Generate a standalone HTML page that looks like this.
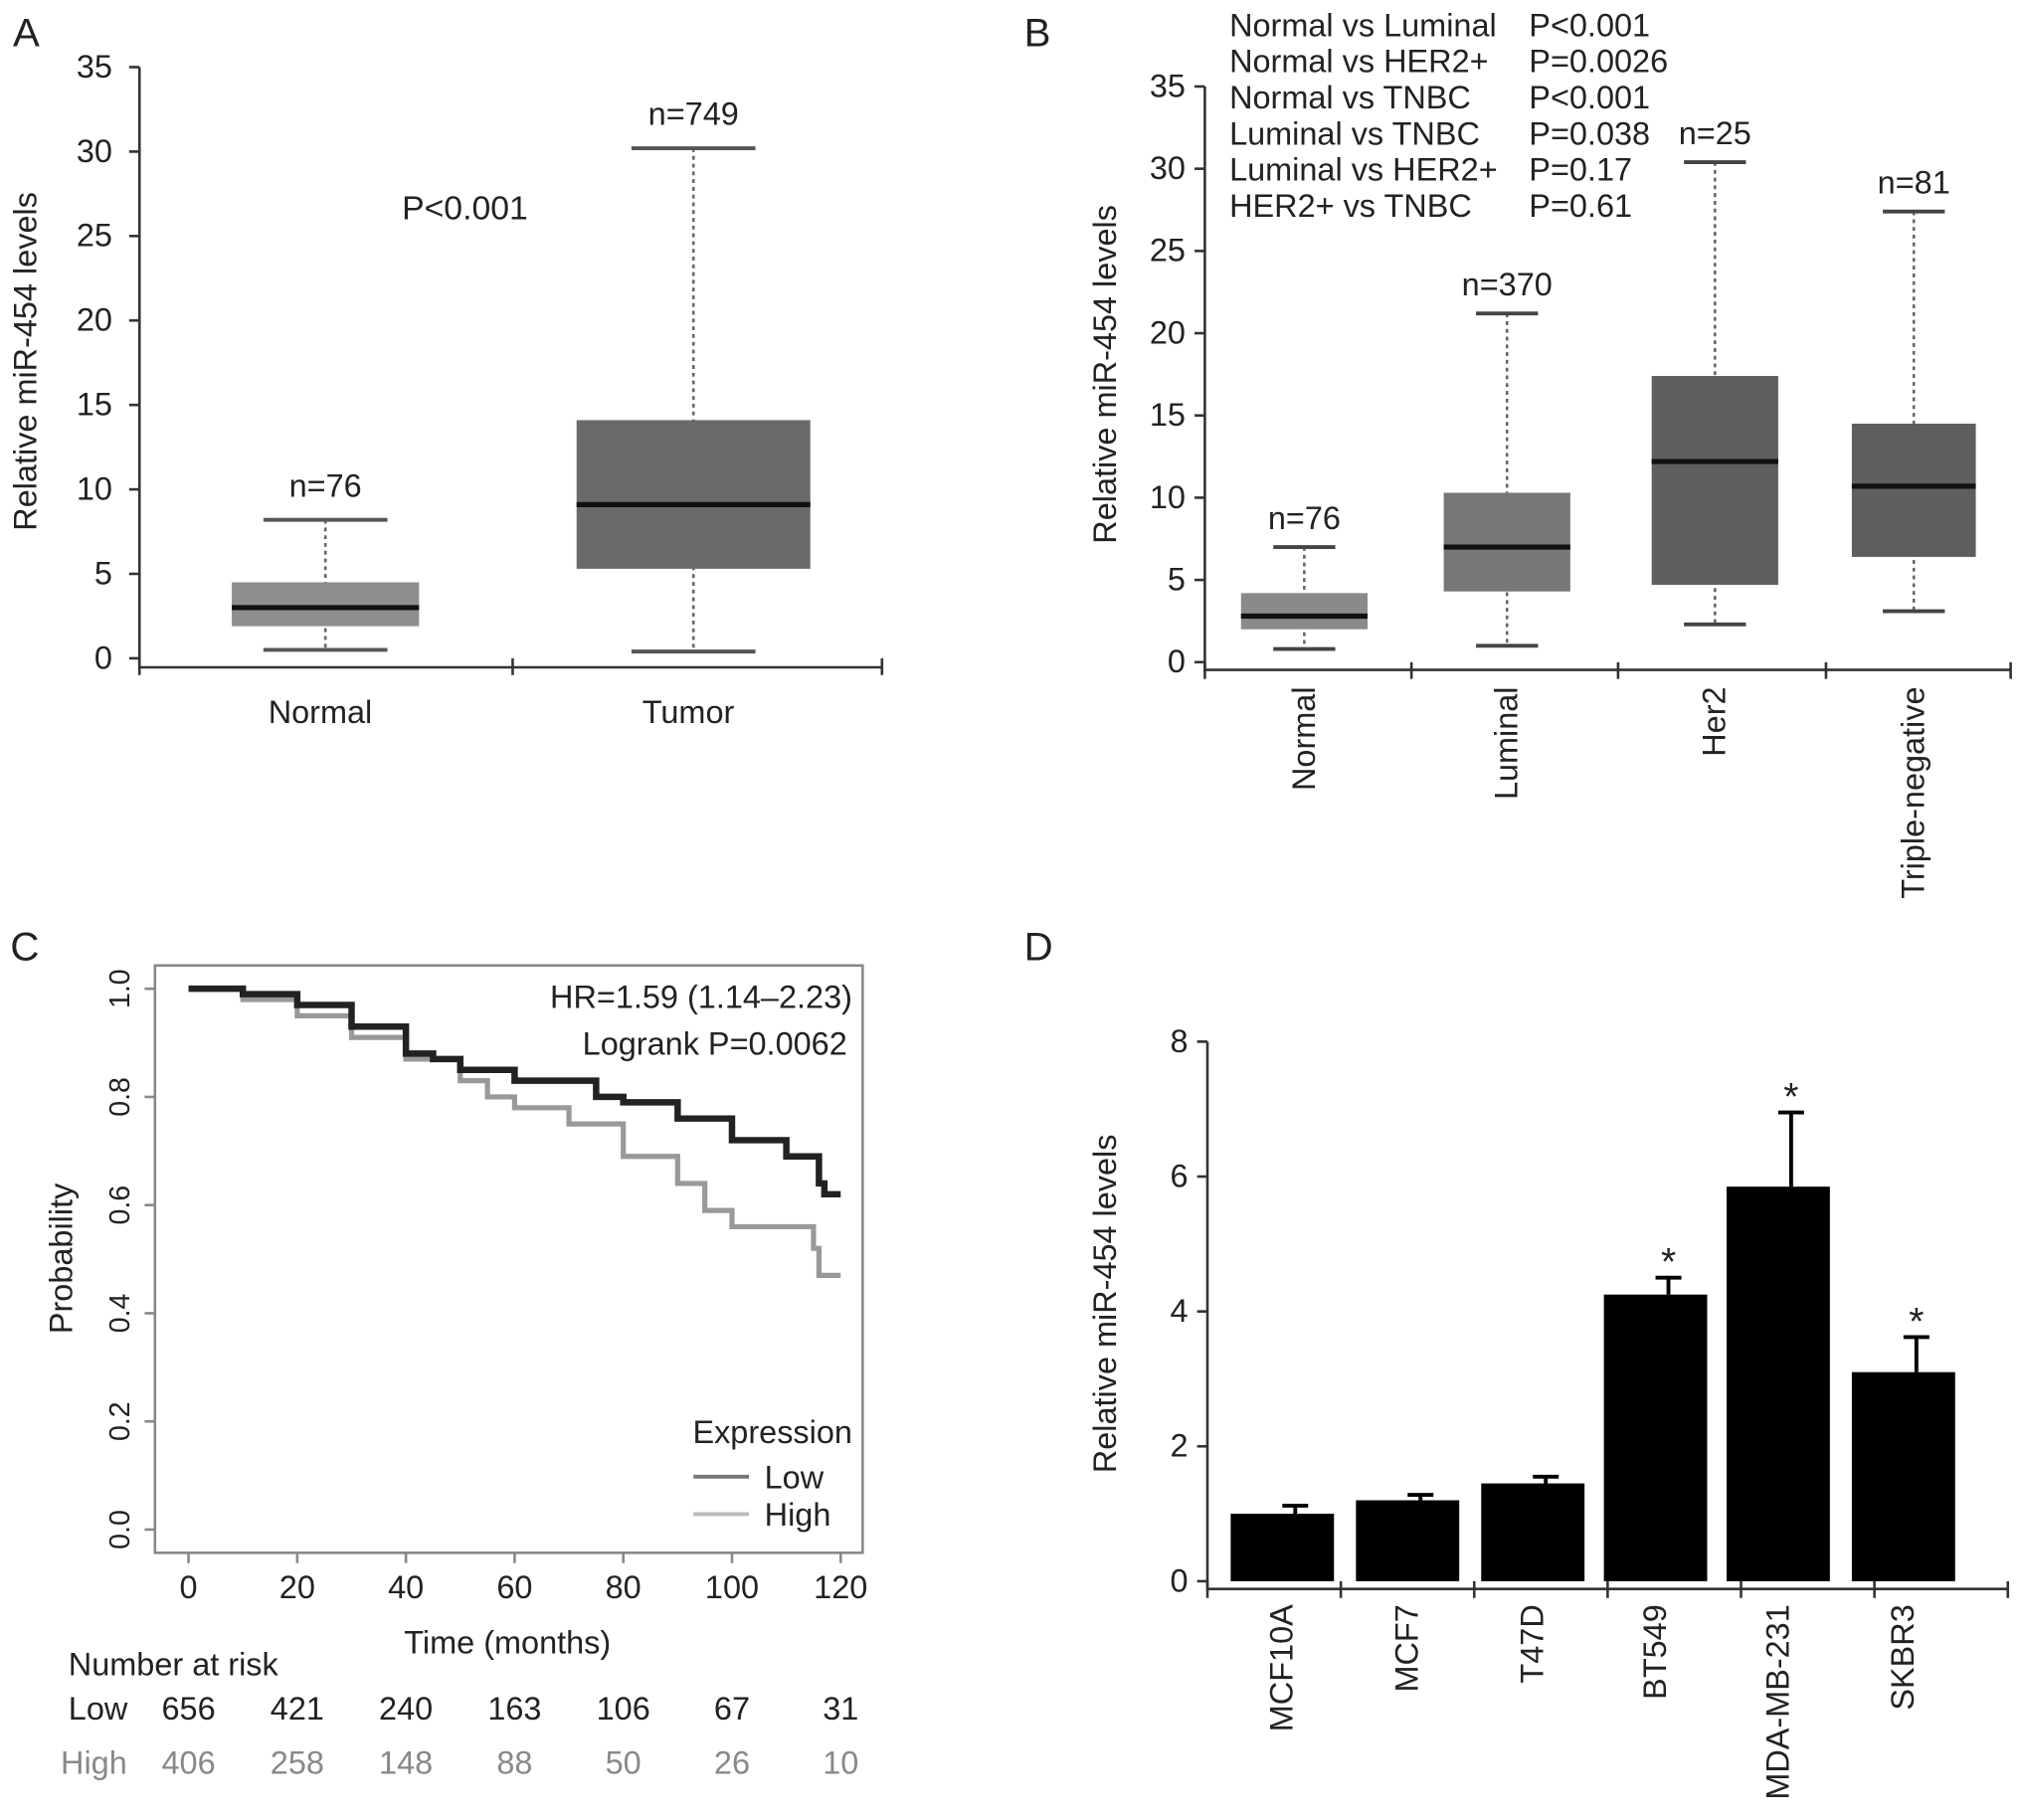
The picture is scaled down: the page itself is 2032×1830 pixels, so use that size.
<!DOCTYPE html>
<html><head><meta charset="utf-8"><style>
html,body{margin:0;padding:0;background:#fff}
svg{display:block}
text{font-family:"Liberation Sans",Arial,sans-serif;fill:#222}
</style></head><body>
<svg id="fig" width="2032" height="1830" viewBox="0 0 1565 1410" preserveAspectRatio="none" xmlns="http://www.w3.org/2000/svg">
<g id="gA"></g>
<g id="gB"></g>
<g id="gC"></g>
<g id="gD"></g>
</svg>
<script>
// ---- Panel A data ----
const aCats=["Normal","Tumor"];
const aMin=[0.5,0.4], aQ1=[1.9,5.3], aMed=[3.0,9.1], aQ3=[4.5,14.1], aMax=[8.2,30.2];
const aN=["n=76","n=749"];
const aTicks=[0,5,10,15,20,25,30,35];
// ---- Panel B data ----
const bCats=["Normal","Luminal","Her2","Triple-negative"];
const bMin=[0.8,1.0,2.3,3.1], bQ1=[2.0,4.3,4.7,6.4], bMed=[2.8,7.0,12.2,10.7], bQ3=[4.2,10.3,17.4,14.5], bMax=[7.0,21.2,30.4,27.4];
const bN=["n=76","n=370","n=25","n=81"];
const bTicks=[0,5,10,15,20,25,30,35];
const bStatsA=["Normal vs Luminal","Normal vs HER2+","Normal vs TNBC","Luminal vs TNBC","Luminal vs HER2+","HER2+ vs TNBC"];
const bStatsP=["P<0.001","P=0.0026","P<0.001","P=0.038","P=0.17","P=0.61"];
// ---- Panel C data ----
const lowT=[0,10,20,30,40,45,50,60,70,75,80,90,100,110,113,116,117,120];
const lowP=[1,0.99,0.97,0.93,0.88,0.87,0.85,0.83,0.83,0.80,0.79,0.76,0.72,0.69,0.69,0.64,0.62,0.62];
const highT=[0,10,20,30,40,50,55,60,70,80,90,95,100,114,115,116,120];
const highP=[1,0.98,0.95,0.91,0.87,0.83,0.80,0.78,0.75,0.69,0.64,0.59,0.56,0.56,0.52,0.47,0.47];
const cXTicks=[0,20,40,60,80,100,120];
const cYTicks=[0,0.2,0.4,0.6,0.8,1.0];
const riskLow=[656,421,240,163,106,67,31];
const riskHigh=[406,258,148,88,50,26,10];
// ---- Panel D data ----
const dCats=["MCF10A","MCF7","T47D","BT549","MDA-MB-231","SKBR3"];
const dVals=[1.0,1.2,1.45,4.25,5.85,3.1];
const dErr=[0.12,0.08,0.1,0.25,1.1,0.52];
const dSig=[false,false,false,true,true,true];
const dTicks=[0,2,4,6,8];

const NS="http://www.w3.org/2000/svg";
const FS=25;
function mk(parent,tag,attrs,txt){const e=document.createElementNS(NS,tag);for(const k in attrs)e.setAttribute(k,attrs[k]);if(txt!==undefined)e.textContent=txt;parent.appendChild(e);return e;}

// ===== Panel A =====
(function(){
const g=document.getElementById('gA');
const y=v=>510-v*(458/35);
const t=mk(g,'text',{x:10,y:36,'font-size':31});


t.textContent='A';
mk(g,'line',{x1:108,y1:52,x2:108,y2:518,stroke:'#333','stroke-width':2});
mk(g,'line',{x1:108,y1:517,x2:683,y2:517,stroke:'#333','stroke-width':2});
[108,397,683].forEach(x=>mk(g,'line',{x1:x,y1:510,x2:x,y2:523,stroke:'#333','stroke-width':2}));
aTicks.forEach(v=>{mk(g,'line',{x1:100,y1:y(v),x2:108,y2:y(v),stroke:'#333','stroke-width':2});
 const l=mk(g,'text',{x:87,y:y(v)+8,'font-size':FS,'text-anchor':'end'},v);
 
 });
const yt=mk(g,'text',{transform:'translate(28,280) rotate(-90)','font-size':FS,'text-anchor':'middle'},'Relative miR-454 levels');


const pv=mk(g,'text',{x:360,y:170,'font-size':26,'text-anchor':'middle'},'P<0.001');


const cols=['#8e8e8e','#6a6a6a'];
aCats.forEach((c,i)=>{const w=i===0?145:181;
 const bx=mk(g,'g',{});
 
 
 const xm=i===0?252:537;
 mk(bx,'line',{x1:xm,y1:y(aMax[i]),x2:xm,y2:y(aMin[i]),stroke:'#666','stroke-width':2,'stroke-dasharray':'3,3'});
 mk(bx,'line',{x1:xm-48,y1:y(aMax[i]),x2:xm+48,y2:y(aMax[i]),stroke:'#555','stroke-width':3});
 mk(bx,'line',{x1:xm-48,y1:y(aMin[i]),x2:xm+48,y2:y(aMin[i]),stroke:'#555','stroke-width':3});
 mk(bx,'rect',{x:xm-w/2,y:y(aQ3[i]),width:w,height:y(aQ1[i])-y(aQ3[i]),fill:cols[i]});
 mk(bx,'line',{x1:xm-w/2,y1:y(aMed[i]),x2:xm+w/2,y2:y(aMed[i]),stroke:'#111','stroke-width':4});
 mk(bx,'text',{x:xm,y:y(aMax[i])-18,'font-size':FS,'text-anchor':'middle'},aN[i]);
 const lb=mk(g,'text',{x:xm-4,y:560,'font-size':FS,'text-anchor':'middle'},c);
 
 
});
})();

// ===== Panel B =====
(function(){
const g=document.getElementById('gB');
const y=v=>513-v*(446/35);
const xc=[1010,1167,1328,1482], w=[98,98,98,96];
const cols=['#8a8a8a','#777','#5e5e5e','#5e5e5e'];
const t=mk(g,'text',{x:793,y:36,'font-size':31},'B');


mk(g,'line',{x1:933,y1:67,x2:933,y2:520,stroke:'#333','stroke-width':2});
mk(g,'line',{x1:933,y1:519,x2:1557,y2:519,stroke:'#333','stroke-width':2});
[933,1093,1253,1414,1557].forEach(x=>mk(g,'line',{x1:x,y1:513,x2:x,y2:526,stroke:'#333','stroke-width':2}));
bTicks.forEach(v=>{mk(g,'line',{x1:925,y1:y(v),x2:933,y2:y(v),stroke:'#333','stroke-width':2});
 const l=mk(g,'text',{x:918,y:y(v)+8,'font-size':FS,'text-anchor':'end'},v);
 
 });
const yt=mk(g,'text',{transform:'translate(864,290) rotate(-90)','font-size':FS,'text-anchor':'middle'},'Relative miR-454 levels');


bStatsA.forEach((s,i)=>{const a=mk(g,'text',{x:952,y:28+i*28,'font-size':FS},s);
 
 
 const p=mk(g,'text',{x:1184,y:28+i*28,'font-size':FS},bStatsP[i]);
 
 });
bCats.forEach((c,i)=>{const xm=xc[i],ww=w[i];
 const bx=mk(g,'g',{});
 
 
 mk(bx,'line',{x1:xm,y1:y(bMax[i]),x2:xm,y2:y(bMin[i]),stroke:'#666','stroke-width':2,'stroke-dasharray':'3,3'});
 mk(bx,'line',{x1:xm-24,y1:y(bMax[i]),x2:xm+24,y2:y(bMax[i]),stroke:'#444','stroke-width':3});
 mk(bx,'line',{x1:xm-24,y1:y(bMin[i]),x2:xm+24,y2:y(bMin[i]),stroke:'#444','stroke-width':3});
 mk(bx,'rect',{x:xm-ww/2,y:y(bQ3[i]),width:ww,height:y(bQ1[i])-y(bQ3[i]),fill:cols[i]});
 mk(bx,'line',{x1:xm-ww/2,y1:y(bMed[i]),x2:xm+ww/2,y2:y(bMed[i]),stroke:'#111','stroke-width':4});
 mk(bx,'text',{x:xm,y:y(bMax[i])-14,'font-size':FS,'text-anchor':'middle'},bN[i]);
 const lb=mk(g,'text',{transform:`translate(${xm+8},532) rotate(-90)`,'font-size':FS,'text-anchor':'end'},c);
 
 
});
})();

// ===== Panel C =====
(function(){
const g=document.getElementById('gC');
const x=v=>146+v*(505/120), y=v=>1185-v*(419);
const t=mk(g,'text',{x:8,y:744,'font-size':31},'C');


mk(g,'rect',{x:120,y:748,width:548,height:455,fill:'none',stroke:'#888','stroke-width':2});
cXTicks.forEach(v=>{mk(g,'line',{x1:x(v),y1:1203,x2:x(v),y2:1211,stroke:'#888','stroke-width':2});
 const l=mk(g,'text',{x:x(v),y:1238,'font-size':FS,'text-anchor':'middle'},v);
 
 });
cYTicks.forEach(v=>{mk(g,'line',{x1:112,y1:y(v),x2:120,y2:y(v),stroke:'#888','stroke-width':2});
 const l=mk(g,'text',{transform:`translate(100,${y(v)}) rotate(-90)`,'font-size':22,'text-anchor':'middle'},v.toFixed(1));
 
 });
const yt=mk(g,'text',{transform:'translate(56,975) rotate(-90)','font-size':FS,'text-anchor':'middle'},'Probability');


const xt=mk(g,'text',{x:393,y:1281,'font-size':FS,'text-anchor':'middle'},'Time (months)');


function step(T,P){let d=`M${x(T[0])},${y(P[0])}`;for(let i=1;i<T.length;i++){d+=` H${x(T[i])} V${y(P[i])}`;}return d;}
const hp=mk(g,'path',{d:step(highT,highP),fill:'none',stroke:'#999','stroke-width':4});


const lp=mk(g,'path',{d:step(lowT,lowP),fill:'none',stroke:'#222','stroke-width':5});


const h1=mk(g,'text',{x:660,y:781,'font-size':FS,'text-anchor':'end'},'HR=1.59 (1.14\u20132.23)');


const h2=mk(g,'text',{x:656,y:817,'font-size':FS,'text-anchor':'end'},'Logrank P=0.0062');


const lg=mk(g,'g',{});


mk(lg,'text',{x:660,y:1118,'font-size':FS,'text-anchor':'end'},'Expression');
mk(lg,'line',{x1:537,y1:1144,x2:580,y2:1144,stroke:'#777','stroke-width':3});
mk(lg,'text',{x:592,y:1153,'font-size':FS},'Low');
mk(lg,'line',{x1:537,y1:1173,x2:580,y2:1173,stroke:'#bbb','stroke-width':3});
mk(lg,'text',{x:592,y:1182,'font-size':FS},'High');
const rk=mk(g,'text',{x:53,y:1298,'font-size':FS},'Number at risk');


mk(g,'text',{x:53,y:1332,'font-size':FS},'Low');
mk(g,'text',{x:47,y:1374,'font-size':FS,style:'fill:#888'},'High');
cXTicks.forEach((v,i)=>{
 const a=mk(g,'text',{x:x(v),y:1332,'font-size':FS,'text-anchor':'middle'},riskLow[i]);
 
 
 const b=mk(g,'text',{x:x(v),y:1374,'font-size':FS,'text-anchor':'middle',style:'fill:#888'},riskHigh[i]);
 
 });
})();

// ===== Panel D =====
(function(){
const g=document.getElementById('gD');
const y=v=>1225-v*(418/8);
const bw=80;
const t=mk(g,'text',{x:793,y:744,'font-size':31},'D');


mk(g,'line',{x1:935,y1:807,x2:935,y2:1232,stroke:'#333','stroke-width':2});
mk(g,'line',{x1:935,y1:1231,x2:1555,y2:1231,stroke:'#333','stroke-width':2});
for(let i=0;i<=dCats.length;i++){const xx=935+i*103.3;mk(g,'line',{x1:xx,y1:1225,x2:xx,y2:1238,stroke:'#333','stroke-width':2});}
dTicks.forEach(v=>{mk(g,'line',{x1:927,y1:y(v),x2:935,y2:y(v),stroke:'#333','stroke-width':2});
 const l=mk(g,'text',{x:920,y:y(v)+8,'font-size':FS,'text-anchor':'end'},v);
 
 });
const yt=mk(g,'text',{transform:'translate(864,1010) rotate(-90)','font-size':FS,'text-anchor':'middle'},'Relative miR-454 levels');


const cx=[993,1090,1187,1282,1377,1474];
dCats.forEach((c,i)=>{const xm=cx[i];
 const b=mk(g,'rect',{x:xm-bw/2,y:y(dVals[i]),width:bw,height:y(0)-y(dVals[i]),fill:'#000'});
 
 
 mk(g,'line',{x1:xm+10,y1:y(dVals[i]),x2:xm+10,y2:y(dVals[i]+dErr[i]),stroke:'#000','stroke-width':3});
 mk(g,'line',{x1:xm,y1:y(dVals[i]+dErr[i]),x2:xm+20,y2:y(dVals[i]+dErr[i]),stroke:'#000','stroke-width':3});
 if(dSig[i]){const s=mk(g,'text',{x:xm+10,y:y(dVals[i]+dErr[i])-2,'font-size':30,'text-anchor':'middle'},'*');
  
  }
 const lb=mk(g,'text',{transform:`translate(${xm+8},1243) rotate(-90)`,'font-size':FS,'text-anchor':'end'},c);
 
 
});
})();
</script>
</body></html>
